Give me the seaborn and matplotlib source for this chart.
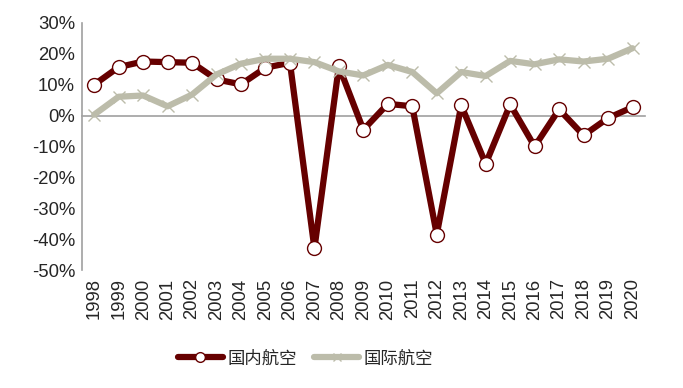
import pandas as pd
import seaborn as sns
import matplotlib.pyplot as plt
from matplotlib.ticker import FuncFormatter, FixedLocator

# data (growth rate, %)
years = [str(y) for y in range(1998, 2021)]
domestic = [10.0, 15.7, 17.5, 17.3, 17.1, 11.7, 10.1, 15.5, 17.1, -43.0, 16.0, -4.6,
            3.8, 3.0, -38.5, 3.3, -15.6, 3.6, -10.0, 2.0, -6.4, -0.8, 2.7]
international = [0.3, 6.1, 6.5, 3.0, 6.8, 13.3, 16.8, 18.4, 18.4, 17.3, 14.3, 13.0,
                 16.4, 14.1, 7.2, 14.1, 12.8, 17.7, 16.6, 18.2, 17.5, 18.4, 21.8]
labels = ["国内航空", "国际航空"]

df = pd.DataFrame({"year": years, "dom": domestic, "intl": international})

sns.set_style("white")
plt.rcParams['font.family'] = ['Liberation Sans', 'Noto Sans CJK SC', 'DejaVu Sans']

fig = plt.figure(figsize=(6.83, 3.88), dpi=100)
ax = fig.add_axes([0.120, 0.304, 0.824, 0.637])

red = "#660000"
grey = "#BCBCAA"

sns.lineplot(data=df, x="year", y="dom", ax=ax, color=red, lw=4.5, sort=False,
             marker="o", markersize=10, markerfacecolor="white",
             markeredgecolor=red, markeredgewidth=1.0, label=labels[0], zorder=2)
sns.lineplot(data=df, x="year", y="intl", ax=ax, color=grey, lw=4.5, sort=False,
             marker="x", markersize=9, markeredgecolor=grey, markeredgewidth=1.0,
             label=labels[1], zorder=3)

ax.set_xlim(-0.5, len(years) - 0.5)
ax.set_ylim(-50, 30)
ax.set_yticks(range(-50, 31, 10))
ax.yaxis.set_major_formatter(FuncFormatter(lambda v, p: f"{v:.0f}%"))
ax.tick_params(axis="y", length=0, labelsize=13.3, pad=5)
ax.set_xlabel("")
ax.set_ylabel("")

for s in ["top", "right"]:
    ax.spines[s].set_visible(False)
ax.spines["left"].set_color("#A0A0A0")
ax.spines["left"].set_linewidth(1.2)
# x axis crosses at 0 with boundary ticks
ax.spines["bottom"].set_position(("data", 0))
ax.spines["bottom"].set_color("#A0A0A0")
ax.spines["bottom"].set_linewidth(1.2)
ax.spines["bottom"].set_zorder(1)
ax.xaxis.set_major_locator(FixedLocator([i - 0.5 for i in range(len(years) + 1)]))
ax.tick_params(axis="x", length=5, width=1.2, color="#A0A0A0", labelbottom=False)

# year labels at the bottom of the plot area
sec = ax.secondary_xaxis("bottom")
sec.set_xticks(range(len(years)))
sec.set_xticklabels(years, rotation=90)
sec.tick_params(length=0, labelsize=13.3, pad=6)
sec.spines["bottom"].set_visible(False)

ax.get_legend().remove()
h, l = ax.get_legend_handles_labels()
fig.legend(h, l, loc="center", bbox_to_anchor=(0.447, 0.077), ncol=2, frameon=False,
           fontsize=12.5, handlelength=2.6, columnspacing=1.0, handletextpad=0.25,
           markerscale=0.7)

fig.savefig("out.png", dpi=100)
